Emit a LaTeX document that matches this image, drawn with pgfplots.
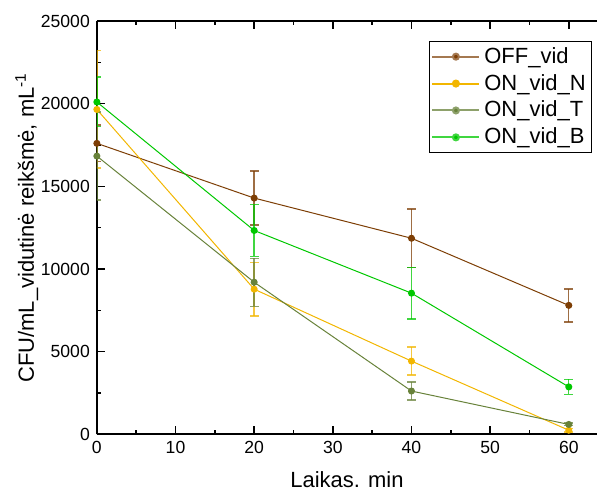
\documentclass[border=0pt]{standalone}
\usepackage{pgfplots}
\pgfplotsset{compat=1.18}
\usepackage{fontspec}
\setmainfont{Liberation Sans}
\definecolor{cOff}{RGB}{125,62,5}
\definecolor{cN}{RGB}{242,182,0}
\definecolor{cT}{RGB}{104,130,58}
\definecolor{cB}{RGB}{0,200,0}
\begin{document}
\begin{tikzpicture}
\begin{axis}[
  name=ax,
  scale only axis,
  width=250.5pt, height=207pt,
  xmin=0, xmax=63.6, ymin=0, ymax=25000,
  axis x line*=box, axis y line*=left,
  axis line style={line width=0.9pt},
  xtick={0,10,20,30,40,50,60},
  ytick={0,5000,10000,15000,20000,25000},
  minor x tick num=1, minor y tick num=1,
  tick align=inside,
  major tick length=4pt, minor tick length=2pt,
  tick style={line width=0.8pt, black},
  scaled y ticks=false,
  /pgf/number format/1000 sep={},
  /pgf/number format/assume math mode=true,
  tick label style={font=\fontsize{8.8}{10}\selectfont},
  xlabel={Laikas. min},
  ylabel={CFU/mL\_vidutinė reikšmė, mL\textsuperscript{-1}},
  label style={font=\fontsize{11}{13}\selectfont},
  xlabel style={at={(axis description cs:0.5,-0.109)}, anchor=center},
  ylabel style={at={(axis description cs:-0.14,0.5)}, anchor=center},
  legend style={at={(axis description cs:0.99,0.952)}, anchor=north east,
    font=\fontsize{11}{13.2}\selectfont,
    inner xsep=1pt, inner ysep=1pt, row sep=0pt},
  legend cell align=left,
  legend image code/.code={%
    \draw[mark repeat=2,mark phase=2,#1] plot coordinates {(0pt,0pt) (11.75pt,0pt) (23.5pt,0pt)};},
  every axis plot/.append style={line width=0.5pt, mark=*, mark size=1.5pt},
]
\addplot[color=cOff, mark options={fill=cOff}, legend image post style={draw=cOff!70, line width=1pt}, error bars/.cd, y dir=both, y explicit,
  error bar style={line width=0.7pt, opacity=0.75}, error mark options={rotate=90, mark size=2.2pt, line width=0.7pt}]
  coordinates {(0,17600) +- (0,1100) (20,14290) +- (0,1640) (40,11860) +- (0,1760) (60,7800) +- (0,1000)};
\addlegendentry{OFF\_vid}
\addplot[color=cN, mark options={fill=cN}, legend image post style={draw=cN, line width=1pt}, error bars/.cd, y dir=both, y explicit,
  error bar style={line width=0.7pt, opacity=0.75}, error mark options={rotate=90, mark size=2.2pt, line width=0.7pt}]
  coordinates {(0,19650) +- (0,3550) (20,8780) +- (0,1630) (40,4430) +- (0,850) (60,250) +- (0,100)};
\addlegendentry{ON\_vid\_N}
\addplot[color=cT, mark options={fill=cT}, legend image post style={draw=cT!75, line width=1pt}, error bars/.cd, y dir=both, y explicit,
  error bar style={line width=0.7pt, opacity=0.75}, error mark options={rotate=90, mark size=2.2pt, line width=0.7pt}]
  coordinates {(0,16830) +- (0,2660) (20,9200) +- (0,1450) (40,2620) +- (0,550) (60,600) +- (0,80)};
\addlegendentry{ON\_vid\_T}
\addplot[color=cB, mark options={fill=cB}, legend image post style={draw=cB!75, line width=1pt}, error bars/.cd, y dir=both, y explicit,
  error bar style={line width=0.7pt, opacity=0.75}, error mark options={rotate=90, mark size=2.2pt, line width=0.7pt}]
  coordinates {(0,20100) +- (0,1500) (20,12330) +- (0,1560) (40,8540) +- (0,1560) (60,2870) +- (0,450)};
\addlegendentry{ON\_vid\_B}
\end{axis}
\path[use as bounding box] ([shift={(-48.5pt,-28pt)}]ax.south west) rectangle ([shift={(0pt,10.5pt)}]ax.north east);
\end{tikzpicture}
\end{document}
